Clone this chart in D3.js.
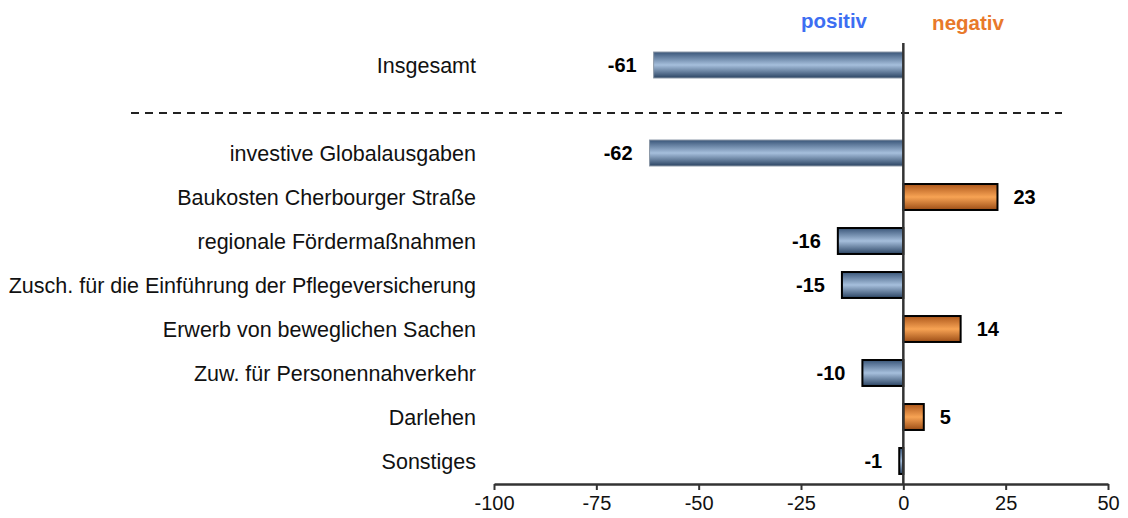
<!DOCTYPE html>
<html>
<head>
<meta charset="utf-8">
<script src="https://cdn.jsdelivr.net/npm/d3@7"></script>
<style>
  html, body { margin: 0; padding: 0; background: #fff; }
  svg { display: block; font-family: Arial, "Liberation Sans", sans-serif; }
</style>
</head>
<body>
<svg id="chart" width="1128" height="518"></svg>
<script>
// ---- data ----
const categories = [
  "Insgesamt",
  "",
  "investive Globalausgaben",
  "Baukosten Cherbourger Straße",
  "regionale Fördermaßnahmen",
  "Zusch. für die Einführung der Pflegeversicherung",
  "Erwerb von beweglichen Sachen",
  "Zuw. für Personennahverkehr",
  "Darlehen",
  "Sonstiges"
];
const values = [-61, null, -62, 23, -16, -15, 14, -10, 5, -1];
const tickValues = [-100, -75, -50, -25, 0, 25, 50];
const headerLabels = ["positiv", "negativ"];

// ---- layout ----
const svg = d3.select("#chart");
const x = d3.scaleLinear().domain([-100, 50]).range([494, 1108]);
const y = d3.scaleBand().domain(categories).range([43, 483]).paddingInner(0.41).paddingOuter(0.205);
const bw = y.bandwidth();
const center = c => y(c) + bw / 2;

// gradients
const defs = svg.append("defs");
function grad(id, stops) {
  const g = defs.append("linearGradient").attr("id", id)
    .attr("x1", 0).attr("y1", 0).attr("x2", 0).attr("y2", 1);
  stops.forEach(([o, c]) => g.append("stop").attr("offset", o).attr("stop-color", c));
}
grad("gBlue", [[0, "#3a5679"], [0.5, "#a6bfdc"], [1, "#2b4463"]]);
grad("gOrange", [[0, "#ad571b"], [0.5, "#f7a354"], [1, "#9c4d16"]]);

const data = categories.map((c, i) => ({ c, v: values[i], i })).filter(d => d.v !== null);

// dashed separator
const sepY = center("") + 4;
svg.append("line")
  .attr("x1", 131).attr("x2", 1062)
  .attr("y1", sepY).attr("y2", sepY)
  .attr("stroke", "#222").attr("stroke-width", 2)
  .attr("stroke-dasharray", "8,6");

// bars
svg.append("g").selectAll("rect").data(data).join("rect")
  .attr("x", d => x(Math.min(0, d.v)))
  .attr("width", d => Math.abs(x(d.v) - x(0)))
  .attr("y", d => y(d.c))
  .attr("height", bw)
  .attr("fill", d => d.v < 0 ? "url(#gBlue)" : "url(#gOrange)")
  .attr("stroke", d => d.i < 3 ? "#8a96a6" : "#000")
  .attr("stroke-width", d => d.i < 3 ? 1 : 2);

// value labels
svg.append("g").selectAll("text").data(data).join("text")
  .attr("x", d => d.v < 0 ? x(d.v) - 17 : x(d.v) + 16)
  .attr("y", d => center(d.c))
  .attr("dy", "0.36em")
  .attr("text-anchor", d => d.v < 0 ? "end" : "start")
  .attr("font-size", 20).attr("font-weight", "bold").attr("fill", "#000")
  .text(d => d.v);

// category labels
svg.append("g").selectAll("text").data(data).join("text")
  .attr("x", 476)
  .attr("y", d => center(d.c))
  .attr("dy", "0.36em")
  .attr("text-anchor", "end")
  .attr("font-size", 21.5).attr("fill", "#111")
  .text(d => d.c);

// zero line
svg.append("line")
  .attr("x1", x(0)).attr("x2", x(0))
  .attr("y1", 43).attr("y2", 484)
  .attr("stroke", "#333").attr("stroke-width", 2.5);

// x axis
const axis = d3.axisBottom(x).tickValues(tickValues).tickSize(6).tickSizeOuter(0).tickFormat(d => String(d));
const ag = svg.append("g").attr("transform", "translate(0,484)").call(axis);
ag.select(".domain").attr("stroke", "#333").attr("stroke-width", 2.5);
ag.selectAll(".tick line").attr("stroke", "#333").attr("stroke-width", 2);
ag.selectAll(".tick text").attr("font-size", 20).attr("fill", "#111")
  .attr("font-family", "Arial, 'Liberation Sans', sans-serif").attr("y", 12).attr("dy", "0.71em");

// headers
svg.append("text").attr("x", 834).attr("y", 28).attr("text-anchor", "middle")
  .attr("font-size", 20.5).attr("font-weight", "bold").attr("fill", "#3d6ef2").text(headerLabels[0]);
svg.append("text").attr("x", 968).attr("y", 30).attr("text-anchor", "middle")
  .attr("font-size", 20.5).attr("font-weight", "bold").attr("fill", "#e8792a").text(headerLabels[1]);
</script>
</body>
</html>
